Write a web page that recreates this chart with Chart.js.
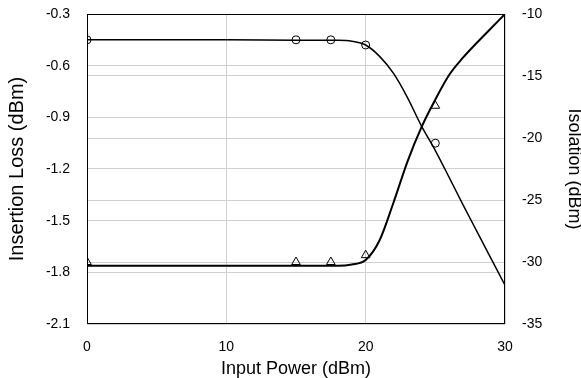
<!DOCTYPE html>
<html>
<head>
<meta charset="utf-8">
<script src="https://cdn.jsdelivr.net/npm/chart.js@4.4.0/dist/chart.umd.min.js"></script>
<style>
  html, body { margin: 0; padding: 0; background: #fff; }
  #wrap { width: 581px; height: 378px; position: relative; }
</style>
</head>
<body>
<div id="wrap"><canvas id="c" width="581" height="378"></canvas></div>
<script>
// ---- data ----
const curveX = [0, 5, 10, 15, 18, 19, 20, 21, 22, 23, 24, 25, 26, 27, 28, 29, 30];
const insertionLossCurve = [-0.45, -0.45, -0.45, -0.452, -0.453, -0.458, -0.48, -0.546, -0.645, -0.785, -0.95, -1.093, -1.25, -1.41, -1.565, -1.72, -1.875];
const isolationCurve = [-30.3, -30.3, -30.3, -30.3, -30.3, -30.2, -29.84, -28.25, -25.2, -21.9, -19.15, -16.9, -14.9, -13.5, -12.3, -11.15, -10.0];

const markerX = [0, 15, 17.5, 20, 25];
const insertionLossMarkers = [-0.45, -0.45, -0.45, -0.48, -1.05];
const isolationMarkers = [-30.0, -30.0, -30.0, -29.45, -17.4];

const xTicks = [0, 10, 20, 30];
const leftTicks = [-2.1, -1.8, -1.5, -1.2, -0.9, -0.6, -0.3];
const rightTicks = [-35, -30, -25, -20, -15, -10];

const xTitle = 'Input Power (dBm)';
const leftTitle = 'Insertion Loss (dBm)';
const rightTitle = 'Isolation (dBm)';

// ---- chart ----
const toPts = (xs, ys) => xs.map((x, i) => ({ x: x, y: ys[i] }));
const FONT = "'Liberation Sans', Arial, sans-serif";
const GRID = '#d0d0d0';

const framePlugin = {
  id: 'frame',
  beforeDatasetsDraw(chart) {
    const a = chart.chartArea, ctx = chart.ctx;
    ctx.save();
    ctx.strokeStyle = '#000';
    ctx.lineWidth = 1;
    ctx.strokeRect(Math.round(a.left) + 0.5, Math.round(a.top) + 0.5,
                   Math.round(a.right - a.left) - 1, Math.round(a.bottom - a.top) - 1);
    ctx.restore();
  }
};

const noVPad = s => { s.paddingTop = 0; s.paddingBottom = 0; };

new Chart(document.getElementById('c'), {
  type: 'scatter',
  data: {
    datasets: [
      {
        type: 'line', data: toPts(curveX, insertionLossCurve), yAxisID: 'yL',
        borderColor: '#000', borderWidth: 1.5, pointRadius: 0, fill: false,
        cubicInterpolationMode: 'monotone', order: 3
      },
      {
        type: 'line', data: toPts(curveX, isolationCurve), yAxisID: 'yR',
        borderColor: '#000', borderWidth: 2, pointRadius: 0, fill: false,
        cubicInterpolationMode: 'monotone', order: 3
      },
      {
        data: toPts(markerX, insertionLossMarkers), yAxisID: 'yL', showLine: false,
        pointStyle: 'circle', pointRadius: 4, pointBorderWidth: 1,
        pointBorderColor: '#000', pointBackgroundColor: 'rgba(0,0,0,0)', order: 1
      },
      {
        data: toPts(markerX, isolationMarkers), yAxisID: 'yR', showLine: false,
        pointStyle: 'triangle', pointRadius: 5, pointBorderWidth: 1,
        pointBorderColor: '#000', pointBackgroundColor: 'rgba(0,0,0,0)', order: 1
      }
    ]
  },
  options: {
    responsive: false,
    animation: false,
    devicePixelRatio: 1,
    layout: { padding: { top: 14, left: 0, right: 0, bottom: 0 } },
    plugins: { legend: { display: false }, tooltip: { enabled: false } },
    scales: {
      x: {
        type: 'linear', position: 'bottom', min: 0, max: 30,
        afterBuildTicks: s => { s.ticks = xTicks.map(v => ({ value: v })); },
        afterFit: s => { s.height = 54; s.paddingLeft = 0; s.paddingRight = 0; },
        grid: { color: GRID, lineWidth: 1, drawTicks: false },
        border: { display: false },
        ticks: { color: '#000', font: { family: FONT, size: 14 }, padding: 15, maxRotation: 0,
                 callback: v => String(v) },
        title: { display: true, text: xTitle, color: '#000',
                 font: { family: FONT, size: 18, lineHeight: 1 }, padding: { top: 0, bottom: 0 } }
      },
      yL: {
        type: 'linear', position: 'left', min: -2.1, max: -0.3,
        afterBuildTicks: s => { s.ticks = leftTicks.map(v => ({ value: v })); },
        afterFit: s => { s.width = 87; noVPad(s); },
        grid: { color: GRID, lineWidth: 1, drawTicks: false },
        border: { display: false },
        ticks: { color: '#000', font: { family: FONT, size: 14 }, padding: 17,
                 callback: v => Number(v).toFixed(1) },
        title: { display: true, text: leftTitle, color: '#000',
                 font: { family: FONT, size: 20, lineHeight: 1 }, padding: { top: 7, bottom: 0 } }
      },
      yR: {
        type: 'linear', position: 'right', min: -35, max: -10,
        afterBuildTicks: s => { s.ticks = rightTicks.map(v => ({ value: v })); },
        afterFit: s => { s.width = 76; noVPad(s); },
        grid: { color: GRID, lineWidth: 1, drawTicks: false, drawOnChartArea: true },
        border: { display: false },
        ticks: { color: '#000', font: { family: FONT, size: 14 }, padding: 17,
                 callback: v => String(v) },
        title: { display: true, text: rightTitle, color: '#000',
                 font: { family: FONT, size: 18, lineHeight: 1 }, padding: { top: -1.5, bottom: 0 } }
      }
    }
  },
  plugins: [framePlugin]
});
</script>
</body>
</html>
